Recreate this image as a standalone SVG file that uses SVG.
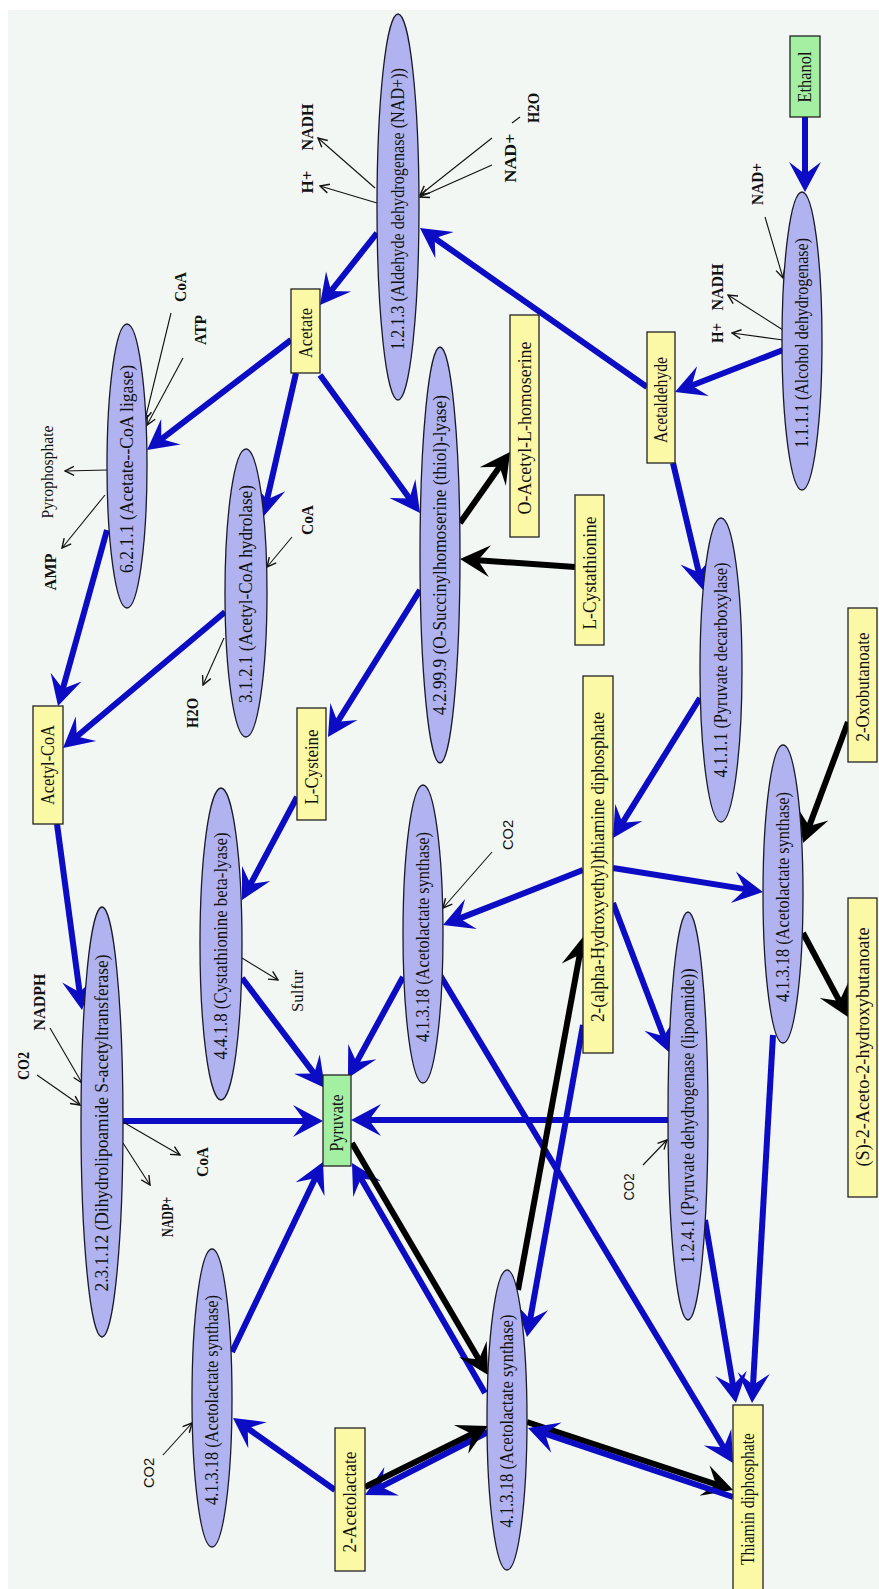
<svg xmlns="http://www.w3.org/2000/svg" width="879" height="1589" viewBox="0 0 879 1589">
<style>
.enz{fill:#b0b3ef;stroke:#1a1a2a;stroke-width:1.3}
.met{fill:#fbf8a6;stroke:#222;stroke-width:1.3}
.key{fill:#a3f0a3;stroke:#222;stroke-width:1.3}
.et{font-family:"Liberation Serif",serif;font-size:18px;fill:#111;text-anchor:middle;dominant-baseline:central}
.mt{font-family:"Liberation Serif",serif;font-size:18px;fill:#111;text-anchor:middle;dominant-baseline:central}
.lm{font-family:"Liberation Serif",serif;font-weight:bold;font-size:17px;fill:#111;text-anchor:middle;dominant-baseline:central}
.ls{font-family:"Liberation Serif",serif;font-size:17px;fill:#111;text-anchor:middle;dominant-baseline:central}
.la{font-family:"Liberation Sans",sans-serif;font-size:15px;fill:#111;text-anchor:middle;dominant-baseline:central}
.b{stroke:#0c0cc4;stroke-width:6;fill:none;marker-end:url(#ab)}
.k{stroke:#000;stroke-width:6;fill:none;marker-end:url(#ak)}
.t{stroke:#111;stroke-width:1.1;fill:none;marker-end:url(#at)}
.t0{stroke:#111;stroke-width:1.1;fill:none}
</style>
<defs>
<marker id="ab" viewBox="-32 -17 34 34" refX="-7" refY="0" markerWidth="34" markerHeight="34" markerUnits="userSpaceOnUse" orient="auto"><path d="M0,0 L-30,-16 L-18,0 L-30,16 Z" fill="#0c0cc4"/></marker>
<marker id="ak" viewBox="-32 -17 34 34" refX="-7" refY="0" markerWidth="34" markerHeight="34" markerUnits="userSpaceOnUse" orient="auto"><path d="M0,0 L-30,-16 L-18,0 L-30,16 Z" fill="#000"/></marker>
<marker id="at" viewBox="-11 -6 12 12" refX="0" refY="0" markerWidth="12" markerHeight="12" markerUnits="userSpaceOnUse" orient="auto"><path d="M-9,-4.5 L0,0 L-9,4.5" fill="none" stroke="#111" stroke-width="1.4"/></marker>
</defs>
<rect x="0" y="0" width="879" height="1589" fill="#ffffff"/>
<rect x="8" y="10" width="871" height="1579" fill="#f3f7f3"/>

<g id="connectors">
<line class="b" x1="805" y1="117" x2="805" y2="185"/>
<line class="b" x1="783" y1="350" x2="681.5" y2="389.5"/>
<line class="b" x1="647" y1="387" x2="425.7" y2="232"/>
<line class="b" x1="377" y1="233" x2="324.3" y2="299.5"/>
<line class="b" x1="291" y1="340" x2="152.6" y2="445.8"/>
<line class="b" x1="296" y1="373" x2="264.6" y2="510.2"/>
<line class="b" x1="320" y1="375" x2="415.9" y2="507.3"/>
<line class="b" x1="107" y1="530" x2="59.9" y2="699.3"/>
<line class="b" x1="225" y1="612" x2="68.4" y2="743.5"/>
<line class="b" x1="420" y1="590" x2="331.7" y2="731.1"/>
<line class="b" x1="673" y1="463" x2="701.4" y2="583.2"/>
<line class="b" x1="700" y1="698" x2="616.7" y2="832.1"/>
<line class="b" x1="297" y1="797" x2="245.3" y2="893.8"/>
<line class="b" x1="57" y1="824" x2="81.1" y2="1003.1"/>
<line class="b" x1="583" y1="870" x2="449.5" y2="922.4"/>
<line class="b" x1="613" y1="868" x2="756.1" y2="890.9"/>
<line class="b" x1="613" y1="903" x2="667.5" y2="1046.5"/>
<line class="b" x1="123" y1="1121" x2="316" y2="1121"/>
<line class="b" x1="668" y1="1120" x2="358" y2="1120"/>
<line class="b" x1="242" y1="978" x2="320.8" y2="1082.4"/>
<line class="b" x1="403" y1="977" x2="351.3" y2="1071.9"/>
<line class="b" x1="440" y1="975" x2="729.4" y2="1457"/>
<line class="b" x1="705" y1="1220" x2="734.8" y2="1396.1"/>
<line class="b" x1="773" y1="1035" x2="752.4" y2="1396"/>
<line class="b" x1="232" y1="1352" x2="320" y2="1168.3"/>
<line class="b" x1="335" y1="1490" x2="238.7" y2="1422"/>
<line class="b" x1="488" y1="1432" x2="371.2" y2="1491.8"/>
<line class="k" x1="365" y1="1487" x2="481.7" y2="1429.1"/>
<line class="b" x1="485" y1="1393" x2="355.5" y2="1169.1"/>
<line class="k" x1="352" y1="1143" x2="484.5" y2="1369"/>
<line class="k" x1="518" y1="1290" x2="581.7" y2="943.9"/>
<line class="b" x1="583" y1="1025" x2="528.2" y2="1330.1"/>
<line class="k" x1="527" y1="1422" x2="726.4" y2="1487.8"/>
<line class="b" x1="733" y1="1497" x2="534.6" y2="1430.2"/>
<line class="k" x1="460" y1="523" x2="506" y2="457.7"/>
<line class="k" x1="575" y1="567" x2="467" y2="559.5"/>
<line class="k" x1="848" y1="722" x2="805.4" y2="836.4"/>
<line class="k" x1="803" y1="933" x2="844.7" y2="1010.8"/>

<line class="t" x1="377" y1="203" x2="320" y2="186"/>
<line class="t" x1="375" y1="188" x2="318" y2="138"/>
<line class="t" x1="492" y1="165" x2="420" y2="197"/>
<line class="t0" x1="520" y1="117" x2="512" y2="123"/>
<line class="t" x1="492" y1="138" x2="420" y2="195"/>
<line class="t" x1="765" y1="217" x2="783" y2="278"/>
<line class="t" x1="783" y1="330" x2="728" y2="295"/>
<line class="t" x1="783" y1="340" x2="732" y2="333"/>
<line class="t" x1="171" y1="313" x2="145" y2="420"/>
<line class="t" x1="183" y1="358" x2="147" y2="425"/>
<line class="t" x1="107" y1="470" x2="65" y2="471"/>
<line class="t" x1="105" y1="495" x2="62" y2="548"/>
<line class="t" x1="292" y1="537" x2="267" y2="567"/>
<line class="t" x1="224" y1="638" x2="203" y2="685"/>
<line class="t" x1="37" y1="1075" x2="80" y2="1105"/>
<line class="t" x1="50" y1="1028" x2="82" y2="1083"/>
<line class="t" x1="123" y1="1122" x2="180" y2="1155"/>
<line class="t" x1="123" y1="1143" x2="150" y2="1185"/>
<line class="t" x1="242" y1="958" x2="278" y2="980"/>
<line class="t" x1="492" y1="852" x2="443" y2="908"/>
<line class="t" x1="643" y1="1165" x2="667" y2="1140"/>
<line class="t" x1="163" y1="1455" x2="192" y2="1423"/>
</g>

<g id="ec1213"><ellipse class="enz" cx="398" cy="207" rx="21" ry="193"/><text class="et" transform="translate(398,209) rotate(-90)" textLength="282" lengthAdjust="spacingAndGlyphs">1.2.1.3 (Aldehyde dehydrogenase (NAD+))</text></g>
<g id="ec1111"><ellipse class="enz" cx="802" cy="341" rx="20" ry="149"/><text class="et" transform="translate(802,343) rotate(-90)" textLength="210" lengthAdjust="spacingAndGlyphs">1.1.1.1 (Alcohol dehydrogenase)</text></g>
<g id="ec6211"><ellipse class="enz" cx="127" cy="466" rx="20" ry="142"/><text class="et" transform="translate(127,469) rotate(-90)" textLength="208" lengthAdjust="spacingAndGlyphs">6.2.1.1 (Acetate--CoA ligase)</text></g>
<g id="ec3121"><ellipse class="enz" cx="246" cy="593" rx="21" ry="144"/><text class="et" transform="translate(246,594) rotate(-90)" textLength="218" lengthAdjust="spacingAndGlyphs">3.1.2.1 (Acetyl-CoA hydrolase)</text></g>
<g id="ec42999"><ellipse class="enz" cx="440" cy="555" rx="20" ry="208"/><text class="et" transform="translate(440,555) rotate(-90)" textLength="320" lengthAdjust="spacingAndGlyphs">4.2.99.9 (O-Succinylhomoserine (thiol)-lyase)</text></g>
<g id="ec4111"><ellipse class="enz" cx="721" cy="670" rx="21" ry="152"/><text class="et" transform="translate(721,670) rotate(-90)" textLength="215" lengthAdjust="spacingAndGlyphs">4.1.1.1 (Pyruvate decarboxylase)</text></g>
<g id="ec4418"><ellipse class="enz" cx="221" cy="944" rx="21" ry="156"/><text class="et" transform="translate(221,946) rotate(-90)" textLength="227" lengthAdjust="spacingAndGlyphs">4.4.1.8 (Cystathionine beta-lyase)</text></g>
<g id="ec41318a"><ellipse class="enz" cx="423" cy="934" rx="20" ry="149"/><text class="et" transform="translate(423,937) rotate(-90)" textLength="210" lengthAdjust="spacingAndGlyphs">4.1.3.18 (Acetolactate synthase)</text></g>
<g id="ec41318b"><ellipse class="enz" cx="783" cy="894" rx="20" ry="149"/><text class="et" transform="translate(783,897) rotate(-90)" textLength="210" lengthAdjust="spacingAndGlyphs">4.1.3.18 (Acetolactate synthase)</text></g>
<g id="ec1241"><ellipse class="enz" cx="688" cy="1116" rx="20" ry="204"/><text class="et" transform="translate(688,1116) rotate(-90)" textLength="295" lengthAdjust="spacingAndGlyphs">1.2.4.1 (Pyruvate dehydrogenase (lipoamide))</text></g>
<g id="ec23112"><ellipse class="enz" cx="102" cy="1122" rx="21" ry="215"/><text class="et" transform="translate(102,1123) rotate(-90)" textLength="337" lengthAdjust="spacingAndGlyphs">2.3.1.12 (Dihydrolipoamide S-acetyltransferase)</text></g>
<g id="ec41318c"><ellipse class="enz" cx="212" cy="1398" rx="20" ry="149"/><text class="et" transform="translate(212,1400) rotate(-90)" textLength="210" lengthAdjust="spacingAndGlyphs">4.1.3.18 (Acetolactate synthase)</text></g>
<g id="ec41318d"><ellipse class="enz" cx="507" cy="1420" rx="20" ry="150"/><text class="et" transform="translate(507,1421) rotate(-90)" textLength="213" lengthAdjust="spacingAndGlyphs">4.1.3.18 (Acetolactate synthase)</text></g>

<g id="ethanol"><rect class="key" x="790" y="36" width="30" height="81"/><text class="mt" transform="translate(805,77) rotate(-90)" textLength="51" lengthAdjust="spacingAndGlyphs">Ethanol</text></g>
<g id="acetaldehyde"><rect class="met" x="647" y="332" width="28" height="131"/><text class="mt" transform="translate(661,400) rotate(-90)" textLength="86" lengthAdjust="spacingAndGlyphs">Acetaldehyde</text></g>
<g id="acetate"><rect class="met" x="291" y="289" width="29" height="84"/><text class="mt" transform="translate(305.5,333) rotate(-90)" textLength="50" lengthAdjust="spacingAndGlyphs">Acetate</text></g>
<g id="oacetylhomoserine"><rect class="met" x="510" y="315" width="29" height="222"/><text class="mt" transform="translate(524.5,428) rotate(-90)" textLength="173" lengthAdjust="spacingAndGlyphs">O-Acetyl-L-homoserine</text></g>
<g id="lcystathionine"><rect class="met" x="575" y="495" width="29" height="150"/><text class="mt" transform="translate(589.5,573) rotate(-90)" textLength="113" lengthAdjust="spacingAndGlyphs">L-Cystathionine</text></g>
<g id="oxobutanoate"><rect class="met" x="848" y="608" width="29" height="154"/><text class="mt" transform="translate(862.5,687) rotate(-90)" textLength="109" lengthAdjust="spacingAndGlyphs">2-Oxobutanoate</text></g>
<g id="hethtpp"><rect class="met" x="583" y="676" width="30" height="377"/><text class="mt" transform="translate(598,867) rotate(-90)" textLength="310" lengthAdjust="spacingAndGlyphs">2-(alpha-Hydroxyethyl)thiamine diphosphate</text></g>
<g id="lcysteine"><rect class="met" x="297" y="708" width="29" height="112"/><text class="mt" transform="translate(311.5,767) rotate(-90)" textLength="75" lengthAdjust="spacingAndGlyphs">L-Cysteine</text></g>
<g id="acetylcoa"><rect class="met" x="33" y="706" width="30" height="118"/><text class="mt" transform="translate(48,765) rotate(-90)" textLength="80" lengthAdjust="spacingAndGlyphs">Acetyl-CoA</text></g>
<g id="pyruvate"><rect class="key" x="323" y="1075" width="28" height="91"/><text class="mt" transform="translate(337,1123) rotate(-90)" textLength="57" lengthAdjust="spacingAndGlyphs">Pyruvate</text></g>
<g id="acetohydroxybutanoate"><rect class="met" x="848" y="898" width="29" height="299"/><text class="mt" transform="translate(862.5,1047) rotate(-90)" textLength="239" lengthAdjust="spacingAndGlyphs">(S)-2-Aceto-2-hydroxybutanoate</text></g>
<g id="acetolactate"><rect class="met" x="335" y="1428" width="30" height="143"/><text class="mt" transform="translate(350,1502) rotate(-90)" textLength="101" lengthAdjust="spacingAndGlyphs">2-Acetolactate</text></g>
<g id="thiamindp"><rect class="met" x="733" y="1405" width="30" height="190"/><text class="mt" transform="translate(748,1499) rotate(-90)" textLength="132" lengthAdjust="spacingAndGlyphs">Thiamin diphosphate</text></g>

<g id="lbl-h1"><text class="lm" transform="translate(307,182) rotate(-90)" textLength="23" lengthAdjust="spacingAndGlyphs">H+</text></g>
<g id="lbl-nadh1"><text class="lm" transform="translate(307,127) rotate(-90)" textLength="47" lengthAdjust="spacingAndGlyphs">NADH</text></g>
<g id="lbl-nad1"><text class="lm" transform="translate(510,158) rotate(-90)" textLength="49" lengthAdjust="spacingAndGlyphs">NAD+</text></g>
<g id="lbl-h2o1"><text class="lm" transform="translate(533,108) rotate(-90)" textLength="30" lengthAdjust="spacingAndGlyphs">H2O</text></g>
<g id="lbl-nad2"><text class="lm" transform="translate(757,184) rotate(-90)" textLength="42" lengthAdjust="spacingAndGlyphs">NAD+</text></g>
<g id="lbl-h2"><text class="lm" transform="translate(717,333) rotate(-90)" textLength="20" lengthAdjust="spacingAndGlyphs">H+</text></g>
<g id="lbl-nadh2"><text class="lm" transform="translate(717,287) rotate(-90)" textLength="47" lengthAdjust="spacingAndGlyphs">NADH</text></g>
<g id="lbl-coa1"><text class="lm" transform="translate(180,287) rotate(-90)" textLength="30" lengthAdjust="spacingAndGlyphs">CoA</text></g>
<g id="lbl-atp"><text class="lm" transform="translate(200,330) rotate(-90)" textLength="30" lengthAdjust="spacingAndGlyphs">ATP</text></g>
<g id="lbl-ppi"><text class="ls" transform="translate(47,472) rotate(-90)" textLength="93" lengthAdjust="spacingAndGlyphs">Pyrophosphate</text></g>
<g id="lbl-amp"><text class="lm" transform="translate(50,572) rotate(-90)" textLength="37" lengthAdjust="spacingAndGlyphs">AMP</text></g>
<g id="lbl-coa2"><text class="lm" transform="translate(307,520) rotate(-90)" textLength="30" lengthAdjust="spacingAndGlyphs">CoA</text></g>
<g id="lbl-h2o2"><text class="lm" transform="translate(192,713) rotate(-90)" textLength="30" lengthAdjust="spacingAndGlyphs">H2O</text></g>
<g id="lbl-co2a"><text class="lm" transform="translate(23,1066) rotate(-90)" textLength="28" lengthAdjust="spacingAndGlyphs">CO2</text></g>
<g id="lbl-nadph"><text class="lm" transform="translate(39,1002) rotate(-90)" textLength="57" lengthAdjust="spacingAndGlyphs">NADPH</text></g>
<g id="lbl-coa3"><text class="lm" transform="translate(202,1162) rotate(-90)" textLength="30" lengthAdjust="spacingAndGlyphs">CoA</text></g>
<g id="lbl-nadp"><text class="lm" transform="translate(167,1217) rotate(-90)" textLength="40" lengthAdjust="spacingAndGlyphs">NADP+</text></g>
<g id="lbl-sulfur"><text class="ls" transform="translate(297,991) rotate(-90)" textLength="42" lengthAdjust="spacingAndGlyphs">Sulfur</text></g>
<g id="lbl-co2b"><text class="la" transform="translate(507,835) rotate(-90)" textLength="30" lengthAdjust="spacingAndGlyphs">CO2</text></g>
<g id="lbl-co2c"><text class="la" transform="translate(628,1187) rotate(-90)" textLength="27" lengthAdjust="spacingAndGlyphs">CO2</text></g>
<g id="lbl-co2d"><text class="la" transform="translate(148,1473) rotate(-90)" textLength="30" lengthAdjust="spacingAndGlyphs">CO2</text></g>
</svg>
